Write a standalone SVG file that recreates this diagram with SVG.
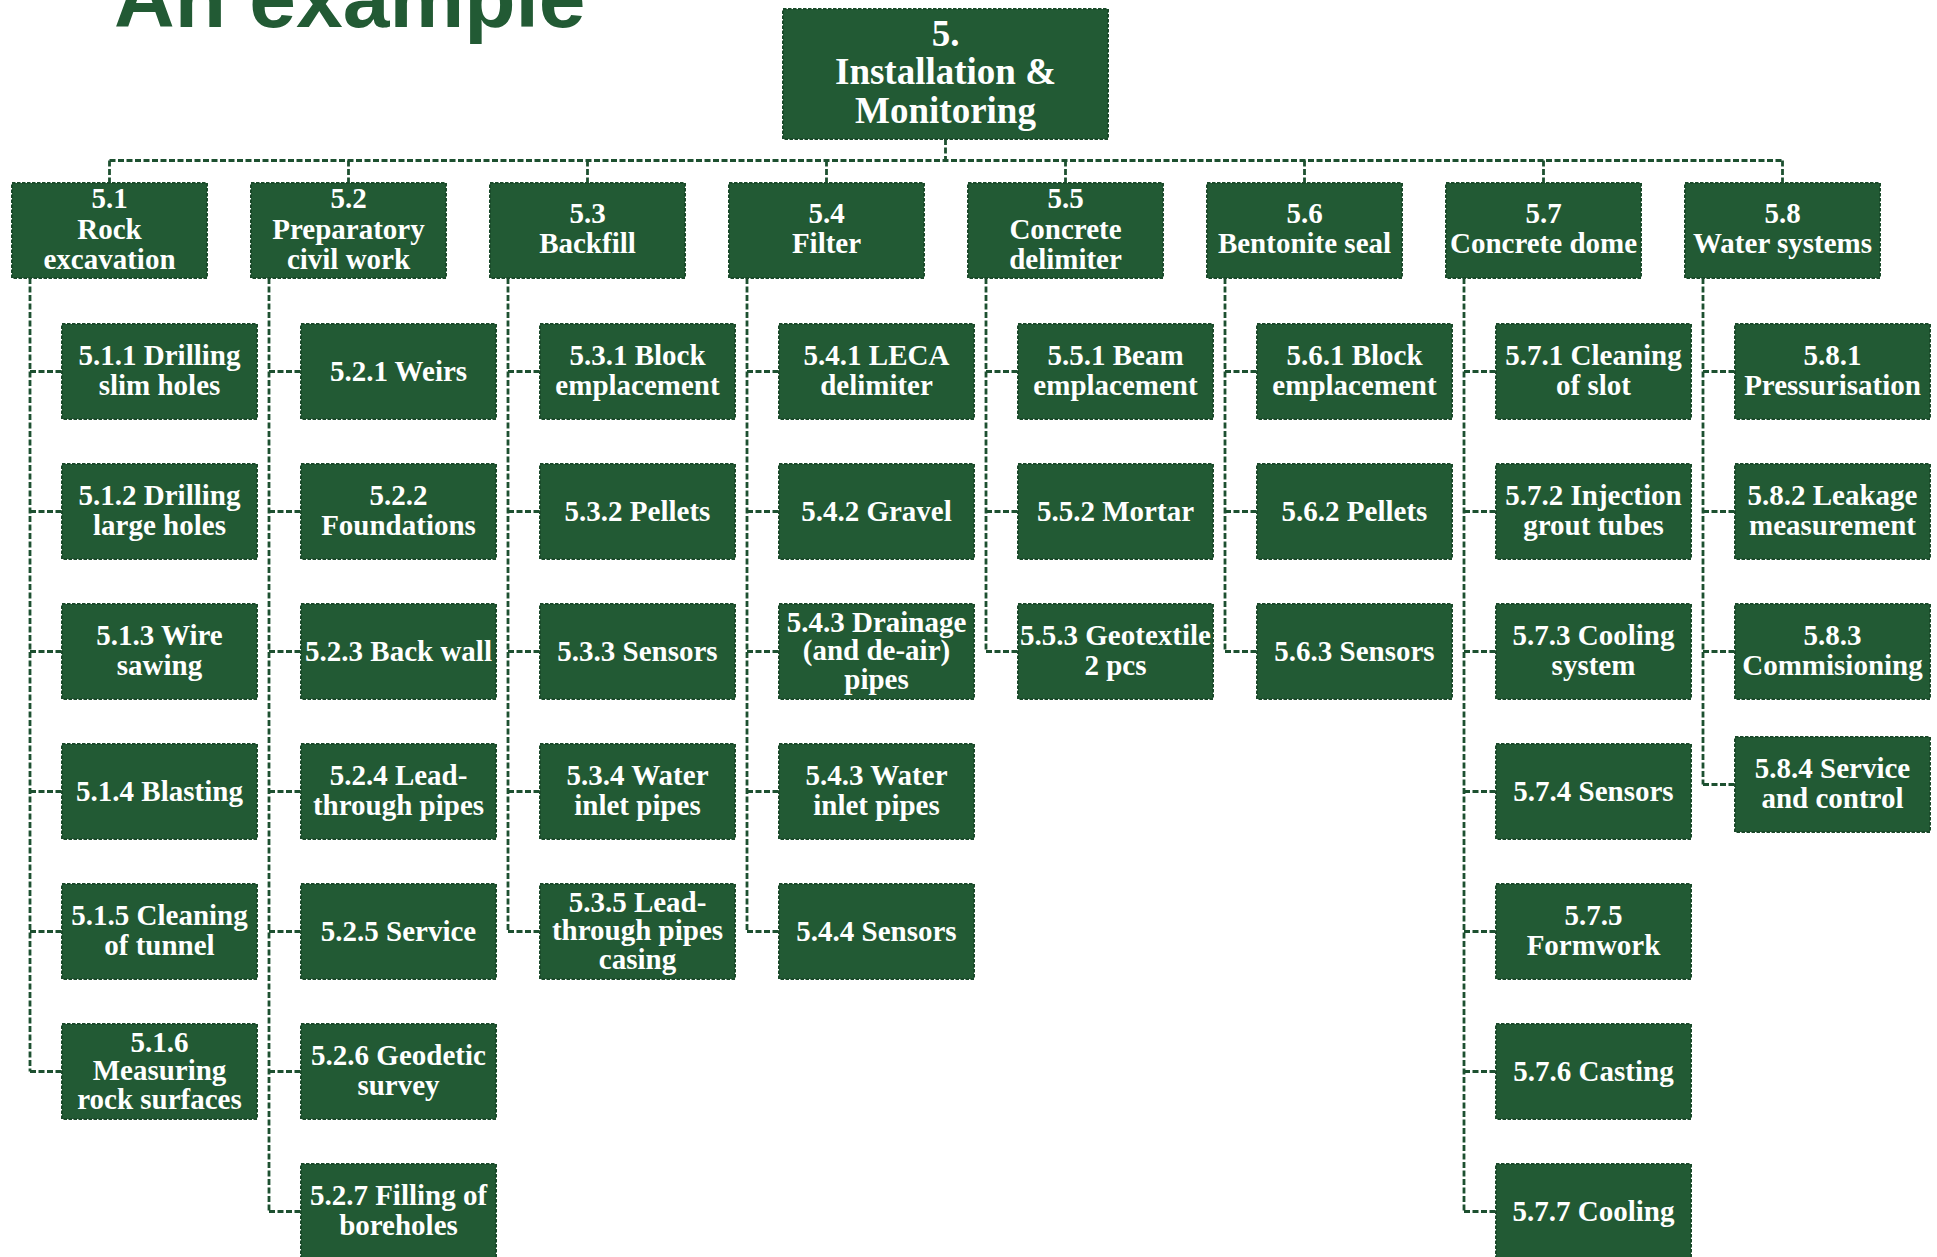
<svg xmlns="http://www.w3.org/2000/svg" width="1937" height="1257" viewBox="0 0 1937 1257">
<style>
.bx{fill:#225a34;stroke:#1a4a2a;stroke-width:2;stroke-dasharray:3.5 1.5}
.t{font-family:"Liberation Serif","Times New Roman",serif;font-weight:bold;font-size:29px;fill:#ffffff;text-anchor:middle}
.r{font-size:37px}
.c{fill:none;stroke:#1d5030;stroke-width:2.8;stroke-dasharray:6 2.5}
.title{font-family:"Liberation Sans",Arial,sans-serif;font-weight:bold;font-size:84px;fill:#225a34}
</style>
<rect width="1937" height="1257" fill="#ffffff"/>
<text class="title" x="114" y="27">An example</text>

<g id="connectors">
<path class="c" d="M945.5 139V160.5M109.5 160.5H1782.5"/>
<path class="c" d="M109.5 160.5V183M348.5 160.5V183M587.5 160.5V183M826.5 160.5V183M1065.5 160.5V183M1304.5 160.5V183M1543.5 160.5V183M1782.5 160.5V183"/>
<path class="c" d="M30 278V1071.5M30 371.5H62M30 511.5H62M30 651.5H62M30 791.5H62M30 931.5H62M30 1071.5H62"/>
<path class="c" d="M269 278V1211.5M269 371.5H301M269 511.5H301M269 651.5H301M269 791.5H301M269 931.5H301M269 1071.5H301M269 1211.5H301"/>
<path class="c" d="M508 278V931.5M508 371.5H540M508 511.5H540M508 651.5H540M508 791.5H540M508 931.5H540"/>
<path class="c" d="M747 278V931.5M747 371.5H779M747 511.5H779M747 651.5H779M747 791.5H779M747 931.5H779"/>
<path class="c" d="M986 278V651.5M986 371.5H1018M986 511.5H1018M986 651.5H1018"/>
<path class="c" d="M1225 278V651.5M1225 371.5H1257M1225 511.5H1257M1225 651.5H1257"/>
<path class="c" d="M1464 278V1211.5M1464 371.5H1496M1464 511.5H1496M1464 651.5H1496M1464 791.5H1496M1464 931.5H1496M1464 1071.5H1496M1464 1211.5H1496"/>
<path class="c" d="M1703 278V784.5M1703 371.5H1735M1703 511.5H1735M1703 651.5H1735M1703 784.5H1735"/>
</g>

<g id="n5"><rect class="bx" x="783" y="9" width="325" height="130"/><text class="t r"><tspan x="945.5" y="45.5">5.</tspan><tspan x="945.5" y="84">Installation &amp;</tspan><tspan x="945.5" y="122.5">Monitoring</tspan></text></g>

<g id="n5_1"><rect class="bx" x="12" y="183" width="195" height="95"/><text class="t"><tspan x="109.5" y="208">5.1</tspan><tspan x="109.5" y="238.5">Rock</tspan><tspan x="109.5" y="269">excavation</tspan></text></g>
<g id="n5_2"><rect class="bx" x="251" y="183" width="195" height="95"/><text class="t"><tspan x="348.5" y="208">5.2</tspan><tspan x="348.5" y="238.5">Preparatory</tspan><tspan x="348.5" y="269">civil work</tspan></text></g>
<g id="n5_3"><rect class="bx" x="490" y="183" width="195" height="95"/><text class="t"><tspan x="587.5" y="222.5">5.3</tspan><tspan x="587.5" y="253">Backfill</tspan></text></g>
<g id="n5_4"><rect class="bx" x="729" y="183" width="195" height="95"/><text class="t"><tspan x="826.5" y="222.5">5.4</tspan><tspan x="826.5" y="253">Filter</tspan></text></g>
<g id="n5_5"><rect class="bx" x="968" y="183" width="195" height="95"/><text class="t"><tspan x="1065.5" y="208">5.5</tspan><tspan x="1065.5" y="238.5">Concrete</tspan><tspan x="1065.5" y="269">delimiter</tspan></text></g>
<g id="n5_6"><rect class="bx" x="1207" y="183" width="195" height="95"/><text class="t"><tspan x="1304.5" y="222.5">5.6</tspan><tspan x="1304.5" y="253">Bentonite seal</tspan></text></g>
<g id="n5_7"><rect class="bx" x="1446" y="183" width="195" height="95"/><text class="t"><tspan x="1543.5" y="222.5">5.7</tspan><tspan x="1543.5" y="253">Concrete dome</tspan></text></g>
<g id="n5_8"><rect class="bx" x="1685" y="183" width="195" height="95"/><text class="t"><tspan x="1782.5" y="222.5">5.8</tspan><tspan x="1782.5" y="253">Water systems</tspan></text></g>

<g id="n5_1_1"><rect class="bx" x="62" y="324" width="195" height="95"/><text class="t"><tspan x="159.5" y="365">5.1.1 Drilling</tspan><tspan x="159.5" y="395">slim holes</tspan></text></g>
<g id="n5_1_2"><rect class="bx" x="62" y="464" width="195" height="95"/><text class="t"><tspan x="159.5" y="505">5.1.2 Drilling</tspan><tspan x="159.5" y="535">large holes</tspan></text></g>
<g id="n5_1_3"><rect class="bx" x="62" y="604" width="195" height="95"/><text class="t"><tspan x="159.5" y="645">5.1.3 Wire</tspan><tspan x="159.5" y="675">sawing</tspan></text></g>
<g id="n5_1_4"><rect class="bx" x="62" y="744" width="195" height="95"/><text class="t" x="159.5" y="800.5">5.1.4 Blasting</text></g>
<g id="n5_1_5"><rect class="bx" x="62" y="884" width="195" height="95"/><text class="t"><tspan x="159.5" y="925">5.1.5 Cleaning</tspan><tspan x="159.5" y="955">of tunnel</tspan></text></g>
<g id="n5_1_6"><rect class="bx" x="62" y="1024" width="195" height="95"/><text class="t"><tspan x="159.5" y="1051.5">5.1.6</tspan><tspan x="159.5" y="1080">Measuring</tspan><tspan x="159.5" y="1108.5">rock surfaces</tspan></text></g>

<g id="n5_2_1"><rect class="bx" x="301" y="324" width="195" height="95"/><text class="t" x="398.5" y="380.5">5.2.1 Weirs</text></g>
<g id="n5_2_2"><rect class="bx" x="301" y="464" width="195" height="95"/><text class="t"><tspan x="398.5" y="505">5.2.2</tspan><tspan x="398.5" y="535">Foundations</tspan></text></g>
<g id="n5_2_3"><rect class="bx" x="301" y="604" width="195" height="95"/><text class="t" x="398.5" y="660.5">5.2.3 Back wall</text></g>
<g id="n5_2_4"><rect class="bx" x="301" y="744" width="195" height="95"/><text class="t"><tspan x="398.5" y="785">5.2.4 Lead-</tspan><tspan x="398.5" y="815">through pipes</tspan></text></g>
<g id="n5_2_5"><rect class="bx" x="301" y="884" width="195" height="95"/><text class="t" x="398.5" y="940.5">5.2.5 Service</text></g>
<g id="n5_2_6"><rect class="bx" x="301" y="1024" width="195" height="95"/><text class="t"><tspan x="398.5" y="1065">5.2.6 Geodetic</tspan><tspan x="398.5" y="1095">survey</tspan></text></g>
<g id="n5_2_7"><rect class="bx" x="301" y="1164" width="195" height="95"/><text class="t"><tspan x="398.5" y="1205">5.2.7 Filling of</tspan><tspan x="398.5" y="1235">boreholes</tspan></text></g>

<g id="n5_3_1"><rect class="bx" x="540" y="324" width="195" height="95"/><text class="t"><tspan x="637.5" y="365">5.3.1 Block</tspan><tspan x="637.5" y="395">emplacement</tspan></text></g>
<g id="n5_3_2"><rect class="bx" x="540" y="464" width="195" height="95"/><text class="t" x="637.5" y="520.5">5.3.2 Pellets</text></g>
<g id="n5_3_3"><rect class="bx" x="540" y="604" width="195" height="95"/><text class="t" x="637.5" y="660.5">5.3.3 Sensors</text></g>
<g id="n5_3_4"><rect class="bx" x="540" y="744" width="195" height="95"/><text class="t"><tspan x="637.5" y="785">5.3.4 Water</tspan><tspan x="637.5" y="815">inlet pipes</tspan></text></g>
<g id="n5_3_5"><rect class="bx" x="540" y="884" width="195" height="95"/><text class="t"><tspan x="637.5" y="911.5">5.3.5 Lead-</tspan><tspan x="637.5" y="940">through pipes</tspan><tspan x="637.5" y="968.5">casing</tspan></text></g>

<g id="n5_4_1"><rect class="bx" x="779" y="324" width="195" height="95"/><text class="t"><tspan x="876.5" y="365">5.4.1 LECA</tspan><tspan x="876.5" y="395">delimiter</tspan></text></g>
<g id="n5_4_2"><rect class="bx" x="779" y="464" width="195" height="95"/><text class="t" x="876.5" y="520.5">5.4.2 Gravel</text></g>
<g id="n5_4_3"><rect class="bx" x="779" y="604" width="195" height="95"/><text class="t"><tspan x="876.5" y="631.5">5.4.3 Drainage</tspan><tspan x="876.5" y="660">(and de-air)</tspan><tspan x="876.5" y="688.5">pipes</tspan></text></g>
<g id="n5_4_3b"><rect class="bx" x="779" y="744" width="195" height="95"/><text class="t"><tspan x="876.5" y="785">5.4.3 Water</tspan><tspan x="876.5" y="815">inlet pipes</tspan></text></g>
<g id="n5_4_4"><rect class="bx" x="779" y="884" width="195" height="95"/><text class="t" x="876.5" y="940.5">5.4.4 Sensors</text></g>

<g id="n5_5_1"><rect class="bx" x="1018" y="324" width="195" height="95"/><text class="t"><tspan x="1115.5" y="365">5.5.1 Beam</tspan><tspan x="1115.5" y="395">emplacement</tspan></text></g>
<g id="n5_5_2"><rect class="bx" x="1018" y="464" width="195" height="95"/><text class="t" x="1115.5" y="520.5">5.5.2 Mortar</text></g>
<g id="n5_5_3"><rect class="bx" x="1018" y="604" width="195" height="95"/><text class="t"><tspan x="1115.5" y="645">5.5.3 Geotextile</tspan><tspan x="1115.5" y="675">2 pcs</tspan></text></g>

<g id="n5_6_1"><rect class="bx" x="1257" y="324" width="195" height="95"/><text class="t"><tspan x="1354.5" y="365">5.6.1 Block</tspan><tspan x="1354.5" y="395">emplacement</tspan></text></g>
<g id="n5_6_2"><rect class="bx" x="1257" y="464" width="195" height="95"/><text class="t" x="1354.5" y="520.5">5.6.2 Pellets</text></g>
<g id="n5_6_3"><rect class="bx" x="1257" y="604" width="195" height="95"/><text class="t" x="1354.5" y="660.5">5.6.3 Sensors</text></g>

<g id="n5_7_1"><rect class="bx" x="1496" y="324" width="195" height="95"/><text class="t"><tspan x="1593.5" y="365">5.7.1 Cleaning</tspan><tspan x="1593.5" y="395">of slot</tspan></text></g>
<g id="n5_7_2"><rect class="bx" x="1496" y="464" width="195" height="95"/><text class="t"><tspan x="1593.5" y="505">5.7.2 Injection</tspan><tspan x="1593.5" y="535">grout tubes</tspan></text></g>
<g id="n5_7_3"><rect class="bx" x="1496" y="604" width="195" height="95"/><text class="t"><tspan x="1593.5" y="645">5.7.3 Cooling</tspan><tspan x="1593.5" y="675">system</tspan></text></g>
<g id="n5_7_4"><rect class="bx" x="1496" y="744" width="195" height="95"/><text class="t" x="1593.5" y="800.5">5.7.4 Sensors</text></g>
<g id="n5_7_5"><rect class="bx" x="1496" y="884" width="195" height="95"/><text class="t"><tspan x="1593.5" y="925">5.7.5</tspan><tspan x="1593.5" y="955">Formwork</tspan></text></g>
<g id="n5_7_6"><rect class="bx" x="1496" y="1024" width="195" height="95"/><text class="t" x="1593.5" y="1080.5">5.7.6 Casting</text></g>
<g id="n5_7_7"><rect class="bx" x="1496" y="1164" width="195" height="95"/><text class="t" x="1593.5" y="1220.5">5.7.7 Cooling</text></g>

<g id="n5_8_1"><rect class="bx" x="1735" y="324" width="195" height="95"/><text class="t"><tspan x="1832.5" y="365">5.8.1</tspan><tspan x="1832.5" y="395">Pressurisation</tspan></text></g>
<g id="n5_8_2"><rect class="bx" x="1735" y="464" width="195" height="95"/><text class="t"><tspan x="1832.5" y="505">5.8.2 Leakage</tspan><tspan x="1832.5" y="535">measurement</tspan></text></g>
<g id="n5_8_3"><rect class="bx" x="1735" y="604" width="195" height="95"/><text class="t"><tspan x="1832.5" y="645">5.8.3</tspan><tspan x="1832.5" y="675">Commisioning</tspan></text></g>
<g id="n5_8_4"><rect class="bx" x="1735" y="737" width="195" height="95"/><text class="t"><tspan x="1832.5" y="778">5.8.4 Service</tspan><tspan x="1832.5" y="808">and control</tspan></text></g>
</svg>
